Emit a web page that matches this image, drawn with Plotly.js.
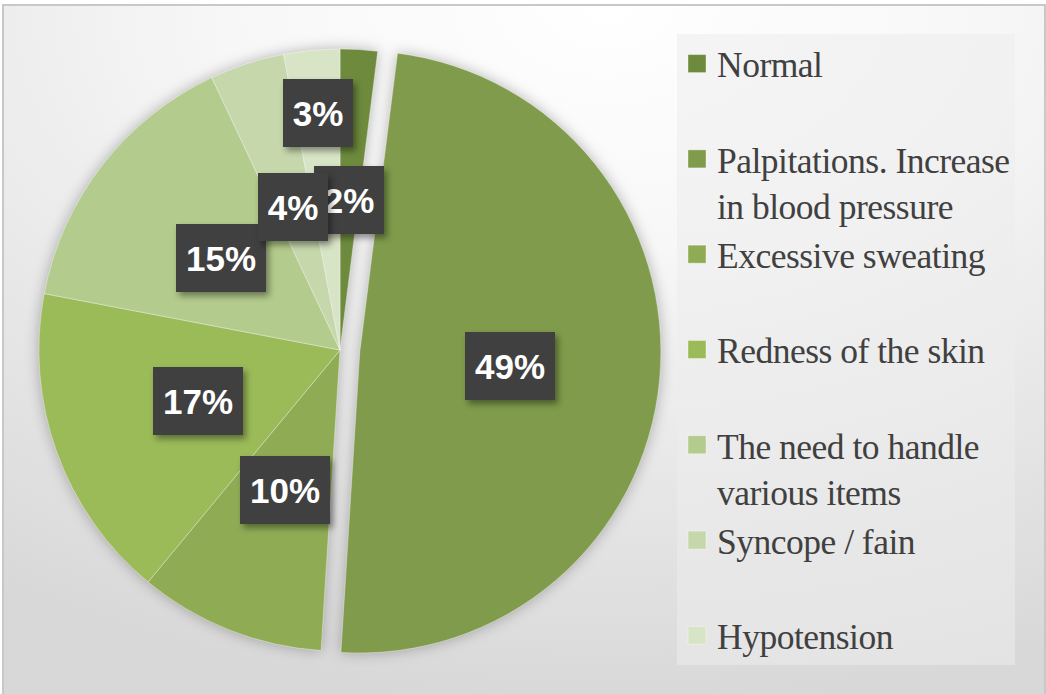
<!DOCTYPE html>
<html>
<head>
<meta charset="utf-8">
<script src="https://cdn.plot.ly/plotly-3.0.1.min.js"></script>
<style>
html, body { margin: 0; padding: 0; overflow: hidden; width: 1046px; height: 694px; }
#bg {
  position: absolute; left: 2px; top: 4px; width: 1044px; height: 700px;
  box-sizing: border-box; border: 2px solid #c8c8c8;
  background: radial-gradient(ellipse 1100px 700px at 58% 0%, #ffffff 0%, #f7f7f7 35%, #e6e6e6 70%, #d8d8d8 100%);
}
#chart { position: absolute; left: 0; top: 0; width: 1046px; height: 694px; }
.pielayer .trace { filter: drop-shadow(0px 0px 7px rgba(0,0,0,0.28)); }
.annotation rect.bg { filter: drop-shadow(3px 4px 3px rgba(0,0,0,0.4)); }
.legendtext { letter-spacing: -0.5px; }
</style>
</head>
<body>
<div id="bg"></div>
<div id="chart"></div>
<script>
// ---- data ----
const categories = [
  'Normal',
  'Palpitations. Increase in blood pressure',
  'Excessive sweating',
  'Redness of the skin',
  'The need to handle various items',
  'Syncope / fain',
  'Hypotension'
];
const values = [2, 49, 10, 17, 15, 4, 3];

// ---- style ----
const colors = ['#6e8b3d', '#7f9b4b', '#8fac55', '#9bbb59', '#b3cb8c', '#c6d7ac', '#d8e4c6'];
const pulls = [0, 0.066, 0, 0, 0, 0, 0];
const labelRadius = [0.5, 0.5, 0.5, 0.5, 0.5, 0.5, 0.79];

const W = 1046, H = 694;
const domX = [0.0182, 0.6319], domY = [0.0331, 0.9582];

function wrap(s, maxLen) {
  const words = s.split(' ');
  const lines = [];
  let cur = '';
  words.forEach(w => {
    if (cur && (cur + ' ' + w).length > maxLen) { lines.push(cur); cur = w; }
    else cur = cur ? cur + ' ' + w : w;
  });
  if (cur) lines.push(cur);
  return lines;
}
const legendLabels = categories.map((c, i) => {
  const lines = wrap(c, 22);
  if (i < categories.length - 1) while (lines.length < 2) lines.push('\u00a0');
  return lines.join('<br>');
});

const data = [{
  type: 'pie',
  labels: legendLabels,
  values: values,
  sort: false,
  direction: 'clockwise',
  rotation: 0,
  pull: pulls,
  textinfo: 'none',
  hoverinfo: 'none',
  marker: { colors: colors, line: { color: 'rgba(255,255,255,0.45)', width: 0.8 } },
  domain: { x: domX, y: domY }
}];

// label positions derived from the pie geometry and values
const total = values.reduce((a, b) => a + b, 0);
const bw = W * (domX[1] - domX[0]), bh = H * (domY[1] - domY[0]);
const maxPull = Math.max(...pulls);
const r = Math.min(bw, bh) / (2 + 2 * maxPull);
const cx = W * (domX[0] + domX[1]) / 2;
const cy = H * (1 - domY[0]) - bh / 2;
let cum = 0;
const annotations = values.map((v, i) => {
  const mid = (cum + v / 2) / total * 2 * Math.PI;
  cum += v;
  const rad = r * labelRadius[i] + pulls[i] * r;
  const px = cx + rad * Math.sin(mid);
  const py = cy - rad * Math.cos(mid);
  const txt = Math.round(v / total * 100) + '%';
  return {
    xref: 'paper', yref: 'paper', x: px / W, y: 1 - py / H,
    xanchor: 'center', yanchor: 'middle', showarrow: false,
    text: txt,
    font: { family: 'Liberation Sans, Arial', size: 35, color: '#ffffff', weight: 'bold' },
    bgcolor: '#404040', borderpad: 0, borderwidth: 0,
    width: txt.length === 2 ? 70 : 90, height: 68
  };
});

const layout = {
  width: W, height: H,
  margin: { l: 0, r: 0, t: 0, b: 0 },
  paper_bgcolor: 'rgba(0,0,0,0)',
  plot_bgcolor: 'rgba(0,0,0,0)',
  showlegend: true,
  legend: {
    x: 677 / W, xanchor: 'left',
    y: 1 - 34 / H, yanchor: 'top',
    valign: 'top',
    bgcolor: 'rgba(236,236,236,0.55)',
    borderwidth: 0,
    font: { family: 'Liberation Serif, Times New Roman, serif', size: 35.5, color: '#404040' },
    traceorder: 'normal'
  },
  annotations: annotations
};

Plotly.newPlot('chart', data, layout, { staticPlot: true, displayModeBar: false }).then(gd => {
  // enlarge the legend squares to match the reference
  gd.querySelectorAll('path.legendpie').forEach(p => p.setAttribute('d', 'M9,9H-9V-9H9Z'));
});
</script>
</body>
</html>
